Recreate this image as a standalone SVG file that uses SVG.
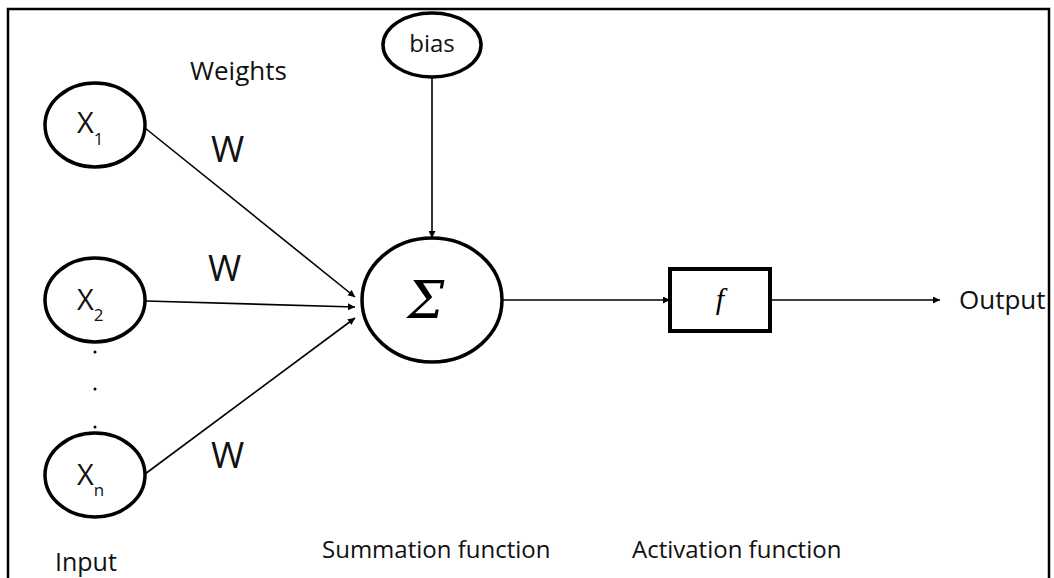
<svg xmlns="http://www.w3.org/2000/svg" width="1054" height="578" viewBox="0 0 1054 578">
<defs>
<marker id="arr" viewBox="0 0 10 10" refX="10" refY="5" markerWidth="7" markerHeight="7" markerUnits="userSpaceOnUse" orient="auto"><path d="M0,0 L10,5 L0,10 z" fill="#000"/></marker>
<style>
.n{fill:#fff;stroke:#000;stroke-width:3.5}
.c{stroke:#000;stroke-width:1.6;fill:none;marker-end:url(#arr)}
.t{font-family:"Open Sans","Noto Sans",sans-serif;fill:#111}
</style>
</defs>
<rect width="1054" height="578" fill="#fff"/>
<rect x="8" y="9" width="1041" height="600" fill="none" stroke="#000" stroke-width="2.5"/>
<g id="connectors">
<line class="c" x1="145" y1="128" x2="355" y2="297"/>
<line class="c" x1="146" y1="301" x2="355" y2="307"/>
<line class="c" x1="145" y1="474" x2="355" y2="318"/>
<line class="c" x1="432" y1="77" x2="432" y2="238"/>
<line class="c" x1="502" y1="300" x2="670" y2="300"/>
<line class="c" x1="770" y1="300" x2="940" y2="300"/>
</g>
<g id="x1"><ellipse class="n" cx="95" cy="125" rx="50" ry="42"/><text class="t" x="77" y="133" font-size="29">X<tspan font-size="17" dy="12">1</tspan></text></g>
<g id="x2"><ellipse class="n" cx="95" cy="300" rx="50" ry="42"/><text class="t" x="77" y="310" font-size="29">X<tspan font-size="17" dy="11">2</tspan></text></g>
<g id="xn"><ellipse class="n" cx="95" cy="475" rx="50" ry="42"/><text class="t" x="77" y="485" font-size="29">X<tspan font-size="17" dy="11">n</tspan></text></g>
<g id="dots" fill="#000"><circle cx="95" cy="352" r="1.5"/><circle cx="95" cy="389" r="1.5"/><circle cx="95" cy="427" r="1.5"/></g>
<g id="bias"><ellipse class="n" cx="432" cy="45" rx="49" ry="32"/><text class="t" x="432" y="52" font-size="24" text-anchor="middle">bias</text></g>
<g id="sum"><ellipse class="n" cx="432" cy="300" rx="70" ry="62"/><text x="426" y="318" font-size="52" font-style="italic" font-family="'DejaVu Serif','Liberation Serif',serif" text-anchor="middle" fill="#000">Σ</text></g>
<g id="act"><rect x="670" y="269" width="100" height="62" fill="#fff" stroke="#000" stroke-width="4"/><text x="720" y="309" font-size="30" font-style="italic" font-family="'Liberation Serif',serif" text-anchor="middle">f</text></g>
<g id="labels" class="t">
<text class="t" x="190" y="80" font-size="26">Weights</text>
<text class="t" x="211" y="162" font-size="36">W</text>
<text class="t" x="208" y="281" font-size="36">W</text>
<text class="t" x="211" y="468" font-size="36">W</text>
<text class="t" x="959" y="309" font-size="26">Output</text>
<text class="t" x="55" y="571" font-size="25">Input</text>
<text class="t" x="322" y="558" font-size="24">Summation function</text>
<text class="t" x="632" y="558" font-size="24">Activation function</text>
</g>
</svg>
